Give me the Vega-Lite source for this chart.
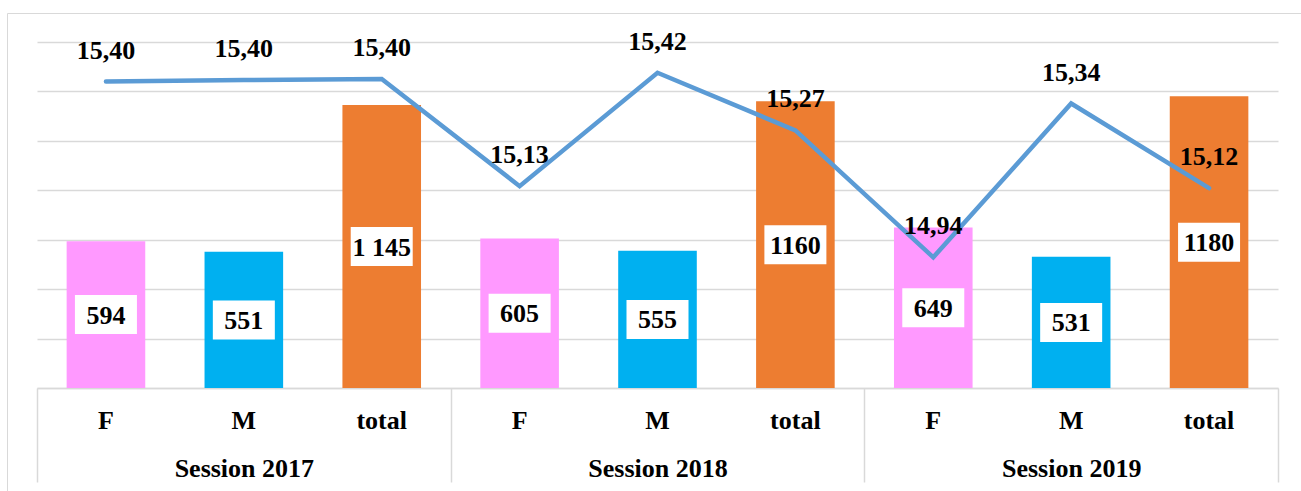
{
  "$schema": "https://vega.github.io/schema/vega-lite/v6.json",
  "width": 1241,
  "height": 346,
  "autosize": {"type": "none"},
  "padding": {"left": 37, "top": 42, "right": 23, "bottom": 103},
  "background": "white",
  "config": {
    "view": {"stroke": null},
    "axis": {"labelFont": "Times New Roman, Liberation Serif, serif", "labelFontWeight": "bold", "labelFontSize": 26, "labelColor": "black"}
  },
  "data": {
    "values": [
      {"session": "Session 2017", "sex": "F", "cat": "2017|F", "count": 594, "countLabel": "594", "avg": 15.397, "avgLabel": "15,40"},
      {"session": "Session 2017", "sex": "M", "cat": "2017|M", "count": 551, "countLabel": "551", "avg": 15.401, "avgLabel": "15,40"},
      {"session": "Session 2017", "sex": "total", "cat": "2017|total", "count": 1145, "countLabel": "1 145", "avg": 15.404, "avgLabel": "15,40"},
      {"session": "Session 2018", "sex": "F", "cat": "2018|F", "count": 605, "countLabel": "605", "avg": 15.125, "avgLabel": "15,13"},
      {"session": "Session 2018", "sex": "M", "cat": "2018|M", "count": 555, "countLabel": "555", "avg": 15.42, "avgLabel": "15,42"},
      {"session": "Session 2018", "sex": "total", "cat": "2018|total", "count": 1160, "countLabel": "1160", "avg": 15.27, "avgLabel": "15,27"},
      {"session": "Session 2019", "sex": "F", "cat": "2019|F", "count": 649, "countLabel": "649", "avg": 14.94, "avgLabel": "14,94"},
      {"session": "Session 2019", "sex": "M", "cat": "2019|M", "count": 531, "countLabel": "531", "avg": 15.34, "avgLabel": "15,34"},
      {"session": "Session 2019", "sex": "total", "cat": "2019|total", "count": 1180, "countLabel": "1180", "avg": 15.12, "avgLabel": "15,12"}
    ]
  },
  "layer": [
    {
      "layer": [
        {
          "mark": {"type": "bar"},
          "encoding": {
            "x": {
              "field": "cat", "type": "nominal", "sort": null,
              "scale": {"type": "band", "paddingInner": 0.43, "paddingOuter": 0.215},
              "axis": {
                "orient": "bottom", "title": null, "labelAngle": 0, "ticks": false,
                "domain": true, "domainColor": "#D9D9D9", "domainWidth": 1.5,
                "labelExpr": "split(datum.label, '|')[1]",
                "labelBaseline": "alphabetic", "labelPadding": 40, "grid": false
              }
            },
            "y": {
              "field": "count", "type": "quantitative",
              "scale": {"domain": [0, 1400]},
              "axis": {
                "values": [0, 200, 400, 600, 800, 1000, 1200, 1400],
                "grid": true, "gridColor": "#D9D9D9", "gridWidth": 1.5,
                "labels": false, "ticks": false, "domain": false, "title": null
              }
            },
            "color": {
              "field": "sex", "type": "nominal",
              "scale": {"domain": ["F", "M", "total"], "range": ["#FF99FF", "#00B0F0", "#ED7D31"]},
              "legend": null
            }
          }
        },
        {
          "mark": {"type": "line", "color": "#5B9BD5", "strokeWidth": 4.5, "strokeCap": "round"},
          "encoding": {
            "x": {"field": "cat", "type": "nominal", "sort": null},
            "y": {"field": "avg", "type": "quantitative", "scale": {"domain": [14.6, 15.5]}, "axis": null}
          }
        },
        {
          "encoding": {
            "x": {"field": "cat", "type": "nominal", "sort": null},
            "y": {"field": "count", "type": "quantitative", "scale": {"domain": [0, 2800]}, "axis": null}
          },
          "layer": [
            {
              "mark": {"type": "point", "shape": "M-1,-0.629L1,-0.629L1,0.629L-1,0.629Z", "filled": true, "color": "white", "opacity": 1, "size": 3844, "strokeWidth": 0}
            },
            {
              "mark": {"type": "text", "font": "Times New Roman, Liberation Serif, serif", "fontWeight": "bold", "fontSize": 26, "baseline": "middle", "align": "center", "color": "black", "dy": 1},
              "encoding": {"text": {"field": "countLabel"}}
            }
          ]
        },
        {
          "mark": {"type": "text", "font": "Times New Roman, Liberation Serif, serif", "fontWeight": "bold", "fontSize": 26, "baseline": "alphabetic", "align": "center", "color": "black", "dy": -23},
          "encoding": {
            "x": {"field": "cat", "type": "nominal", "sort": null},
            "y": {"field": "avg", "type": "quantitative", "scale": {"domain": [14.6, 15.5]}, "axis": null},
            "text": {"field": "avgLabel"}
          }
        }
      ],
      "resolve": {"scale": {"y": "independent"}}
    },
    {
      "mark": {"type": "point", "opacity": 0},
      "encoding": {
        "x": {
          "field": "session", "type": "nominal", "sort": null,
          "scale": {"type": "band", "paddingInner": 0, "paddingOuter": 0},
          "axis": {
            "orient": "bottom", "title": null, "labelAngle": 0, "domain": false, "grid": false,
            "ticks": true, "tickBand": "extent", "tickSize": 94, "tickColor": "#D9D9D9", "tickWidth": 1.5,
            "labelBaseline": "alphabetic", "labelPadding": -5.5
          }
        }
      }
    },
    {
      "mark": {"type": "point", "opacity": 0},
      "encoding": {
        "x": {
          "field": "session", "type": "nominal", "sort": null,
          "scale": {"type": "band", "range": [-30, 1264]},
          "axis": {"orient": "top", "offset": 29, "title": null, "labels": false, "ticks": false, "grid": false, "domain": true, "domainColor": "#D9D9D9", "domainWidth": 1}
        },
        "y": {
          "field": "count", "type": "quantitative",
          "scale": {"range": [449, -29]},
          "axis": {"orient": "left", "offset": 30, "title": null, "labels": false, "ticks": false, "grid": false, "domain": true, "domainColor": "#D9D9D9", "domainWidth": 1}
        }
      }
    }
  ],
  "resolve": {"scale": {"x": "independent", "y": "independent"}}
}
